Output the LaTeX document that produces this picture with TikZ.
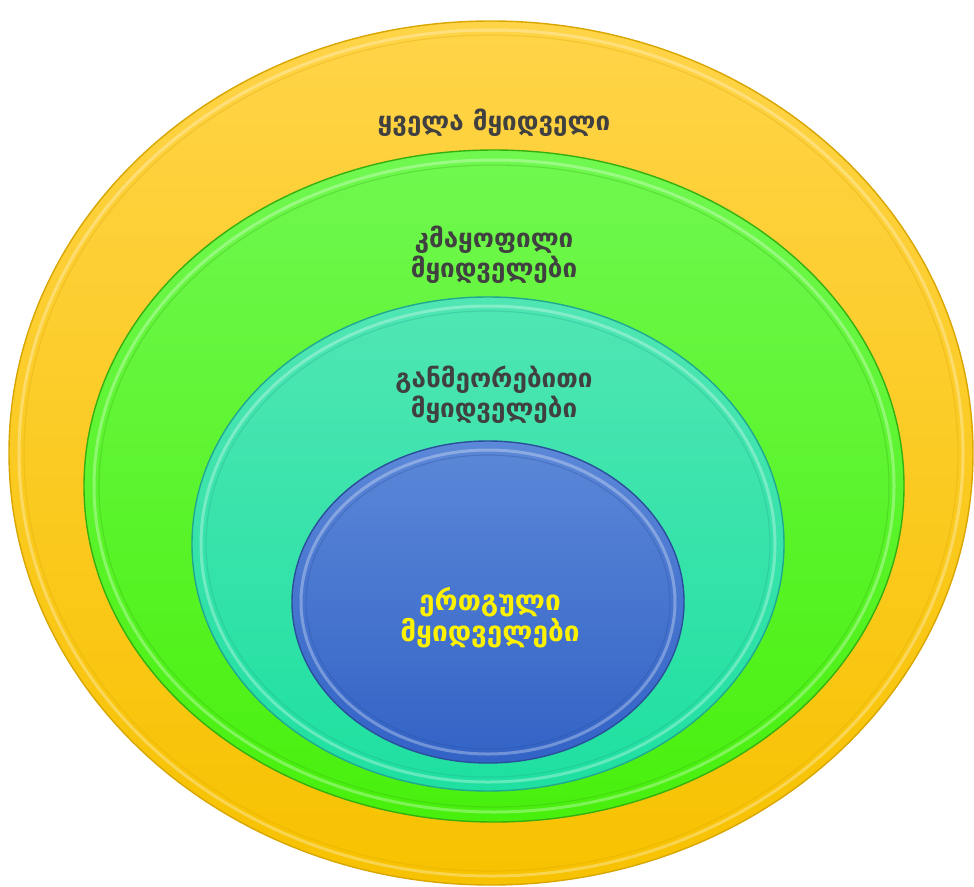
\documentclass[tikz,border=0pt]{standalone}
\usepackage{fontspec}
\newfontfamily\geo{DejaVu Sans}
\usetikzlibrary{shapes.geometric}
\definecolor{ylTop}{HTML}{FFD448}
\definecolor{ylBot}{HTML}{F7C200}
\definecolor{ylRim}{HTML}{D9A600}
\definecolor{grTop}{HTML}{70F850}
\definecolor{grBot}{HTML}{48F00C}
\definecolor{grRim}{HTML}{35B010}
\definecolor{tlTop}{HTML}{50E6B4}
\definecolor{tlBot}{HTML}{1EE0A0}
\definecolor{tlRim}{HTML}{20A890}
\definecolor{blTop}{HTML}{5C88D8}
\definecolor{blBot}{HTML}{3263C6}
\definecolor{blRim}{HTML}{2A4E9C}
\definecolor{txtGray}{HTML}{404040}
\tikzset{
  ring/.style={ellipse, inner sep=0pt, draw=#1Rim, line width=1.4pt,
               top color=#1Top, bottom color=#1Bot},
  label/.style={font=\geo\bfseries\fontsize{26}{30}\selectfont, align=center, text=txtGray},
  glow/.style={line width=3pt, draw=white, opacity=0.3},
  groove/.style={line width=1.2pt, opacity=0.3}
}
\begin{document}
\begin{tikzpicture}[x=1pt,y=-1pt]
\useasboundingbox[fill=white] (0,0) rectangle (974,886);

% outer band: all buyers
\node[ring=yl, minimum width=964pt, minimum height=864pt] (all) at (491,453) {};
\draw[glow] (491,453) ellipse (472 and 423);
\draw[groove, draw=ylRim] (491,453) ellipse (467 and 418);

% satisfied buyers
\node[ring=gr, minimum width=820pt, minimum height=672pt] (sat) at (494,486) {};
\draw[glow] (494,486) ellipse (400 and 326);
\draw[groove, draw=grRim] (494,486) ellipse (395 and 321);

% repeat buyers
\node[ring=tl, minimum width=592pt, minimum height=494pt] (rep) at (488,544) {};
\draw[glow] (488,544) ellipse (287 and 238);
\draw[groove, draw=tlRim] (488,544) ellipse (282 and 233);

% loyal buyers
\node[ring=bl, minimum width=392pt, minimum height=322pt] (loy) at (488,602) {};
\draw[glow] (488,602) ellipse (187 and 152);
\draw[groove, draw=blRim] (488,602) ellipse (182 and 147);

% captions
\node[label] (tAll) at (494,123) {ყველა მყიდველი};
\node[label] (tSat) at (494,255) {კმაყოფილი\\მყიდველები};
\node[label] (tRep) at (494,395) {განმეორებითი\\მყიდველები};
\node[label, text=yellow, font=\geo\bfseries\fontsize{28}{31}\selectfont] (tLoy) at (490,618) {ერთგული\\მყიდველები};
\end{tikzpicture}
\end{document}
